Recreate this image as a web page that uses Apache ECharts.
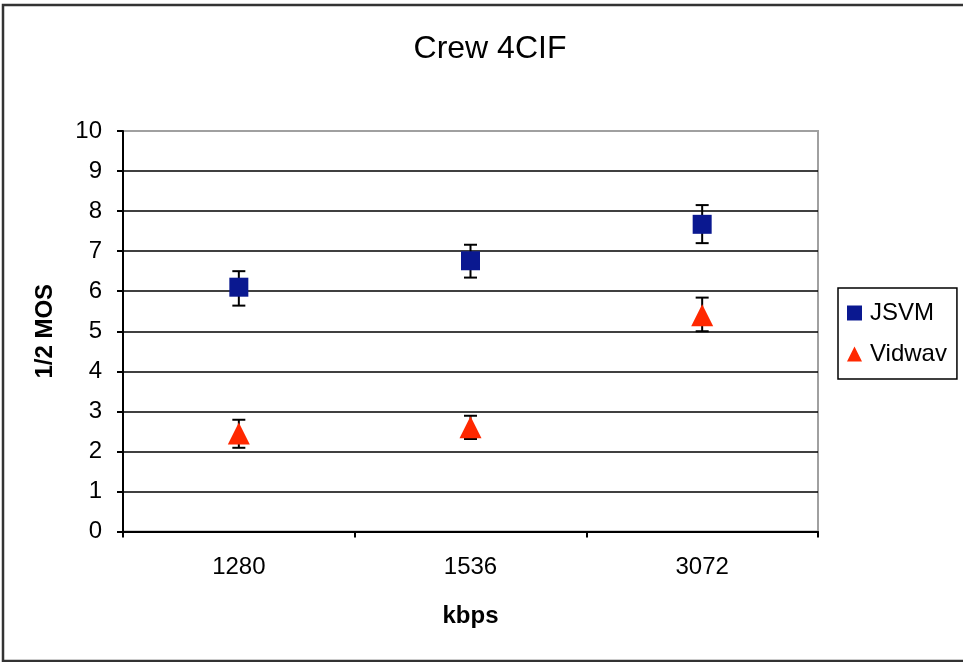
<!DOCTYPE html>
<html>
<head>
<meta charset="utf-8">
<script src="https://cdn.jsdelivr.net/npm/echarts@6/dist/echarts.min.js"></script>
<style>
html,body{margin:0;padding:0;background:#fff;}
#c{width:963px;height:662px;}
</style>
</head>
<body>
<div id="c"></div>
<script>
var categories = ['1280', '1536', '3072'];
var jsvmMean = [6.1, 6.76, 7.67];
var jsvmLow  = [5.64, 6.34, 7.2];
var jsvmHigh = [6.5, 7.16, 8.15];
var vidwavMean = [2.45, 2.6, 5.4];
var vidwavLow  = [2.09, 2.31, 5.0];
var vidwavHigh = [2.79, 2.89, 5.84];
var yTicks = [0,1,2,3,4,5,6,7,8,9,10];

function errData(low, high) {
  return categories.map(function (c, i) { return [i, low[i], high[i]]; });
}
function errRender(params, api) {
  var x = api.value(0);
  var lo = api.coord([x, api.value(1)]);
  var hi = api.coord([x, api.value(2)]);
  var hw = 6.5;
  var st = { stroke: '#000', lineWidth: 2 };
  return {
    type: 'group',
    children: [
      { type: 'line', shape: { x1: lo[0], y1: lo[1], x2: hi[0], y2: hi[1] }, style: st },
      { type: 'line', shape: { x1: lo[0] - hw, y1: lo[1], x2: lo[0] + hw, y2: lo[1] }, style: st },
      { type: 'line', shape: { x1: hi[0] - hw, y1: hi[1], x2: hi[0] + hw, y2: hi[1] }, style: st }
    ]
  };
}

var chart = echarts.init(document.getElementById('c'), null, { renderer: 'canvas' });
var font = 'Arial, "Liberation Sans", sans-serif';
chart.setOption({
  animation: false,
  backgroundColor: '#fff',
  title: {
    text: 'Crew 4CIF',
    left: 485,
    textAlign: 'center',
    top: 28,
    textStyle: { fontFamily: font, fontSize: 32, fontWeight: 'normal', color: '#000' }
  },
  graphic: [{
    type: 'rect',
    shape: { x: 3, y: 5, width: 975, height: 656 },
    style: { fill: 'none', stroke: '#333', lineWidth: 2.5 },
    z: 100
  }],
  legend: {
    orient: 'vertical',
    left: 838,
    top: 288,
    padding: [13, 10, 13, 9],
    itemGap: 17,
    itemWidth: 15,
    itemHeight: 15,
    borderColor: '#000',
    borderWidth: 1.5,
    textStyle: { fontFamily: font, fontSize: 24, color: '#000', padding: [0, 0, 0, 3] },
    data: [
      { name: 'JSVM', icon: 'rect' },
      { name: 'Vidwav', icon: 'triangle' }
    ]
  },
  grid: {
    left: 123, right: 145, top: 131, bottom: 130.5,
    show: true, borderColor: '#a0a0a0', borderWidth: 2, backgroundColor: '#fff'
  },
  xAxis: {
    type: 'category',
    data: categories,
    boundaryGap: true,
    name: 'kbps',
    nameLocation: 'middle',
    nameGap: 73,
    nameTextStyle: { fontFamily: font, fontSize: 24, fontWeight: 'bold', color: '#000', verticalAlign: 'top' },
    axisLine: { lineStyle: { color: '#000', width: 2 } },
    axisTick: { show: true, length: 6, inside: false, lineStyle: { color: '#000', width: 2 } },
    axisLabel: { fontFamily: font, fontSize: 24, color: '#000', margin: 24 },
    splitLine: { show: false }
  },
  yAxis: {
    type: 'value',
    min: 0, max: 10, interval: 1,
    name: '1/2 MOS',
    nameLocation: 'middle',
    nameGap: 66,
    nameTextStyle: { fontFamily: font, fontSize: 24, fontWeight: 'bold', color: '#000' },
    axisLine: { show: true, lineStyle: { color: '#000', width: 2 } },
    axisTick: { show: true, length: 6, inside: false, lineStyle: { color: '#000', width: 2 } },
    axisLabel: {
      fontFamily: font, fontSize: 24, color: '#000', margin: 21,
      formatter: function (v) { return yTicks.indexOf(v) >= 0 ? String(v) : ''; }
    },
    splitLine: { show: true, showMaxLine: false, showMinLine: false, lineStyle: { color: '#000', width: 1.5 } }
  },
  series: [
    {
      name: 'JSVMerr', type: 'custom', renderItem: errRender,
      data: errData(jsvmLow, jsvmHigh), encode: { x: 0, y: [1, 2] }, z: 3, silent: true
    },
    {
      name: 'Vidwaverr', type: 'custom', renderItem: errRender,
      data: errData(vidwavLow, vidwavHigh), encode: { x: 0, y: [1, 2] }, z: 3, silent: true
    },
    {
      name: 'JSVM', type: 'scatter', data: jsvmMean,
      symbol: 'rect', symbolSize: 19,
      itemStyle: { color: '#0A1890', opacity: 1 }, z: 5
    },
    {
      name: 'Vidwav', type: 'scatter', data: vidwavMean,
      symbol: 'triangle', symbolSize: [22, 22],
      itemStyle: { color: '#FF2800', opacity: 1 }, z: 5
    }
  ]
});
</script>
</body>
</html>
